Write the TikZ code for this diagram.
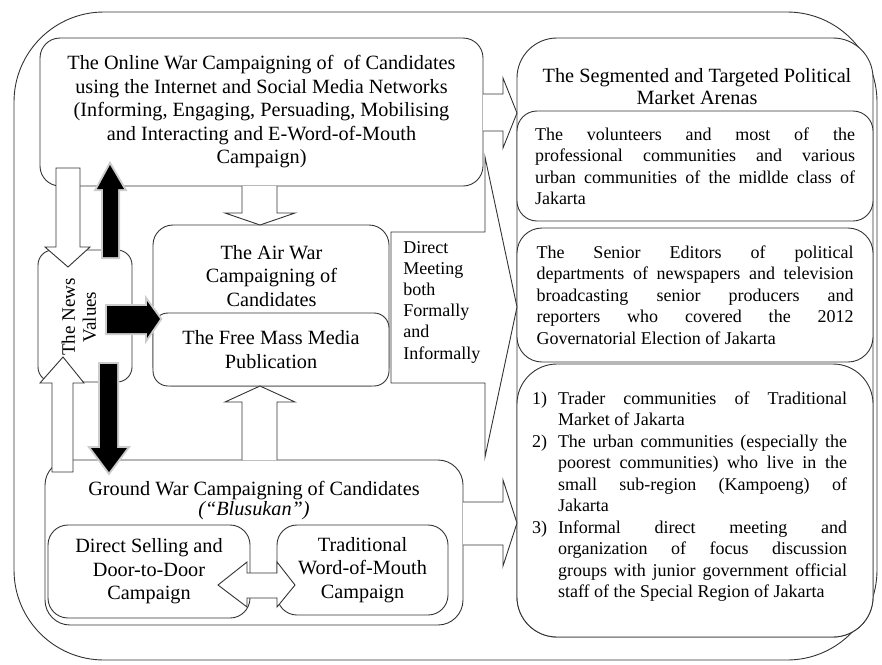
\documentclass[tikz,border=0pt]{standalone}
\usepackage{fontspec}
\setmainfont{Liberation Serif}
\usepackage{tikz}

\newcommand{\arenafont}{\fontsize{18}{21.5}\selectfont\tolerance=10000\relax\hyphenpenalty=10000\relax}
\newcommand{\arenaitem}[1]{\par\hangindent=26pt\hangafter=1\noindent\makebox[26pt][l]{#1}}

\begin{document}
\begin{tikzpicture}[x = 1pt, y = -1pt, line width = 0.9pt, draw = black!80,
        box/.style = {draw = black!80, fill = white, rounded corners = #1, inner sep = 0pt, align = center,
                font = \fontsize{20.25}{23.5}\selectfont},
        box/.default = 20pt,
        label text/.style = {inner sep = 0pt, align = center, font = \fontsize{20.25}{23.5}\selectfont},
        arena text/.style = {align = justify, font = \arenafont},
        hollow/.style = {draw = black!80, fill = white},
        solid arrow/.style = {fill = black, preaction = {draw = black!20, line width = 4pt}}]
        \useasboundingbox (0,0) rectangle (882,664);

        \draw [rounded corners = 90pt] (14,12) rectangle (877,660);

        % left column
        \node [box] (online) at (261.5,112) [minimum width = 443, minimum height = 148]
                {The Online War Campaigning of\ \ of Candidates\\using the Internet and Social Media Networks\\(Informing, Engaging, Persuading, Mobilising\\and Interacting and E-Word-of-Mouth\\Campaign)};
        \node [box] (airwar) at (271,305.5) [minimum width = 236, minimum height = 161] {};
        \node [label text] (airwartext) at (271.5,276) {The Air War\\Campaigning of\\Candidates};
        \node [box = 15pt] (freemass) at (271,349.5) [minimum width = 236, minimum height = 73]
                {The Free Mass Media\\Publication};
        \node [box = 15pt] (news) at (85,316) [minimum width = 94, minimum height = 132] {};
        \node [inner sep = 0pt, align = center, rotate = 90, font = \fontsize{19}{21}\selectfont] (newstext) at (79,317)
                {The News\\Values};
        \node [box = 25pt] (ground) at (254,542.5) [minimum width = 418, minimum height = 165] {};
        \node [label text, font = \fontsize{20.25}{20}\selectfont] (groundtext) at (254,501)
                {Ground War Campaigning of Candidates\\\textit{(``Blusukan'')}};
        \node [box] (selling) at (149,571.5) [minimum width = 202, minimum height = 93]
                {Direct Selling and\\Door-to-Door\\Campaign};
        \node [box] (wordofmouth) at (362.5,570) [minimum width = 171, minimum height = 90]
                {Traditional\\Word-of-Mouth\\Campaign};

        % right column
        \node [box = 40pt] (arena) at (695,337.5) [minimum width = 356, minimum height = 599] {};
        \node [label text, font = \fontsize{20.25}{22}\selectfont] (arenatitle) at (697,87)
                {The Segmented and Targeted Political\\Market Arenas};
        \node [box, arena text, text width = 320] (volunteers) at (695,166) [minimum width = 356, minimum height = 110]
                {\noindent The volunteers and most of the\linebreak professional communities and various\linebreak
                urban communities of the midlde class of\linebreak Jakarta};
        \node [box = 25pt, arena text, text width = 317] (editors) at (695,295) [minimum width = 356, minimum height = 134]
                {\noindent The Senior Editors of political\linebreak departments of newspapers and television\linebreak
                broadcasting senior producers and\linebreak reporters who covered the 2012\linebreak
                Governatorial Election of Jakarta};
        \node [box = 40pt] (communities) at (695,500.5) [minimum width = 356, minimum height = 273] {};
        \node [arena text, inner sep = 0pt, text width = 315] (communitiestext) at (689.5,492)
                {\arenaitem{1)}Trader communities of Traditional\linebreak Market of Jakarta
                \arenaitem{2)}The urban communities (especially the\linebreak poorest communities) who live in the\linebreak
                small sub-region (Kampoeng) of\linebreak Jakarta
                \arenaitem{3)}Informal direct meeting and\linebreak organization of focus discussion\linebreak
                groups with junior government official\linebreak staff of the Special Region of Jakarta\par};

        % hollow arrows
        \draw [hollow] (483,94) -- (503,94) -- (503,78) -- (517,113) -- (503,148) -- (503,131) -- (483,131);
        \draw [hollow] (391,232) -- (485,232) -- (485,157) -- (517,307) -- (485,457) -- (485,383) -- (391,383) -- cycle;
        \node [inner sep = 0pt, align = left, anchor = west, font = \fontsize{18}{21.2}\selectfont] (meeting) at (403,302)
                {Direct\\Meeting\\both\\Formally\\and\\Informally};
        \draw [hollow] (463,502) -- (503,502) -- (503,480) -- (517,523) -- (503,566) -- (503,545) -- (463,545);
        \draw [hollow] (242,186) -- (242,213) -- (225,213) -- (260,225) -- (295,213) -- (277,213) -- (277,186);
        \draw [hollow] (242,460) -- (242,402) -- (225,402) -- (260,386) -- (295,402) -- (277,402) -- (277,460);
        \draw [hollow] (56,168) -- (80,168) -- (80,247) -- (90,247) -- (68,267) -- (45,247) -- (56,247) -- cycle;
        \draw [hollow] (52,472) -- (52,383) -- (40,383) -- (63,357) -- (84,383) -- (73,383) -- (73,472) -- cycle;
        \draw [hollow] (218,585) -- (247,562) -- (247,573) -- (277,573) -- (277,562) -- (295,585)
                -- (277,607) -- (277,598) -- (247,598) -- (247,607) -- cycle;

        % solid arrows
        \path [solid arrow] (103,257) -- (103,189) -- (97,189) -- (110,165) -- (124,189) -- (118,189) -- (118,257) -- cycle;
        \path [solid arrow] (107,306) -- (147,306) -- (147,301) -- (160,319) -- (147,338) -- (147,333) -- (107,333) -- cycle;
        \path [solid arrow] (100,364) -- (117,364) -- (117,448) -- (127,448) -- (109,472) -- (91,448) -- (100,448) -- cycle;
    \end{tikzpicture}
\end{document}
